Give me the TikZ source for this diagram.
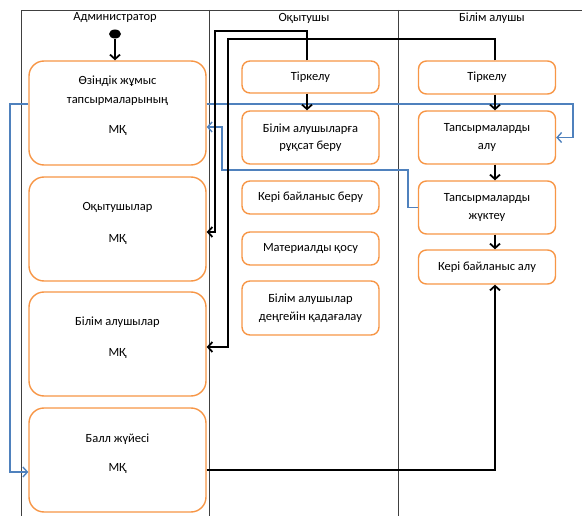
\documentclass[tikz,border=0pt]{standalone}
\usepackage{fontspec}
\setmainfont{Carlito}
\usetikzlibrary{arrows.meta,shapes.geometric}
\definecolor{boxorange}{HTML}{F79646}
\definecolor{flowblue}{HTML}{4F81BD}

\begin{document}
\begin{tikzpicture}[x=1pt,y=-1pt,
    lane/.style={draw=black!75,line width=0.9pt},
    hdr/.style={font=\fontsize{12.5}{14}\selectfont},
    admbox/.style={draw=boxorange,line width=1.4pt,rounded corners=15pt,fill=white,
      minimum width=177pt,minimum height=104pt},
    actbox/.style={draw=boxorange,line width=1.4pt,rounded corners=8pt,fill=white,
      minimum width=137pt,align=center,inner sep=2pt,font=\fontsize{12.5}{17.5}\selectfont},
    txt/.style={align=center,font=\fontsize{12.5}{19}\selectfont},
    blk/.style={line width=1.8pt,-{Straight Barb[length=4.5pt,width=10pt]}},
    blu/.style={draw=flowblue,line width=1.4pt,-{Straight Barb[length=4.5pt,width=10pt]}}]
    \useasboundingbox (0,0) rectangle (582,516);

    \draw[lane] (21,516) -- (21,10) -- (582,10);
    \draw[lane] (209,10) -- (209,516);
    \draw[lane] (398,10) -- (398,516);
    \node[hdr] (h1) at (115,18) {Администратор};
    \node[hdr] (h2) at (304,18) {Оқытушы};
    \node[hdr] (h3) at (492,18) {Білім алушы};

    \newcommand{\AX}{117.5}
    \node[admbox] (a1) at (\AX,113) {};
    \node[admbox] (a2) at (\AX,229) {};
    \node[admbox] (a3) at (\AX,344) {};
    \node[admbox] (a4) at (\AX,460) {};
    \node[txt] (a1t) at ([yshift=7pt]a1.center) {Өзіндік жұмыс\\тапсырмаларының\\[11pt]МҚ};
    \node[txt] (a2t) at ([yshift=6pt]a2.center) {Оқытушылар\\[13pt]МҚ};
    \node[txt] (a3t) at ([yshift=6pt]a3.center) {Білім алушылар\\[12pt]МҚ};
    \node[txt] (a4t) at ([yshift=6pt]a4.center) {Балл жүйесі\\[10pt]МҚ};

    \newcommand{\TX}{310.5}
    \node[actbox,minimum height=32pt] (t1) at (\TX,77) {Тіркелу};
    \node[actbox,minimum height=53pt] (t2) at (\TX,137.5) {Білім алушыларға\\рұқсат беру};
    \node[actbox,minimum height=33pt] (t3) at (\TX,197.5) {Кері байланыс беру};
    \node[actbox,minimum height=33pt] (t4) at (\TX,248.5) {Материалды қосу};
    \node[actbox,minimum height=54pt] (t5) at (\TX,308) {Білім алушылар\\деңгейін қадағалау};

    \newcommand{\SX}{487}
    \node[actbox,minimum height=33pt] (s1) at (\SX,77.5) {Тіркелу};
    \node[actbox,minimum height=53pt] (s2) at (\SX,137.5) {Тапсырмаларды\\алу};
    \node[actbox,minimum height=53pt] (s3) at (\SX,207.5) {Тапсырмаларды\\жүктеу};
    \node[actbox,minimum height=34pt] (s4) at (\SX,267) {Кері байланыс алу};

    \node[ellipse,fill=black,minimum width=12pt,minimum height=9pt,inner sep=0pt] (start) at (115,34) {};

    \coordinate (tx) at (307,0);
    \coordinate (sx) at (495,0);
    \coordinate (yb) at (0,470);
    \coordinate (yo) at (0,232);
    \coordinate (yi) at (0,347);
    \coordinate (ya) at (0,104);
    \coordinate (yc) at (0,472);
    \coordinate (yd) at (0,127);

    \draw[blu] (a1.west |- ya) -| (10,472) -- (a4.west |- yc);
    \draw[blu] (a1.east |- ya) -| (573,137.5) -- (s2.east);
    \draw[blu] (s3.west) -| (408,170) -| (222,127) -- (a1.east |- yd);

    \draw[blk] (start) -- (start |- a1.north);
    \draw[blk] (t1.south -| tx) -- (t2.north -| tx);
    \draw[blk] (s1.south -| sx) -- (s2.north -| sx);
    \draw[blk] (s2.south -| sx) -- (s3.north -| sx);
    \draw[blk] (s3.south -| sx) -- (s4.north -| sx);
    \draw[blk] (a4.east |- yb) -| (s4.south -| sx);
    \draw[blk] (t1.north -| tx) |- (215,31) |- (a2.east |- yo);
    \draw[blk] (s1.north -| sx) |- (228,39) |- (a3.east |- yi);
\end{tikzpicture}
\end{document}
